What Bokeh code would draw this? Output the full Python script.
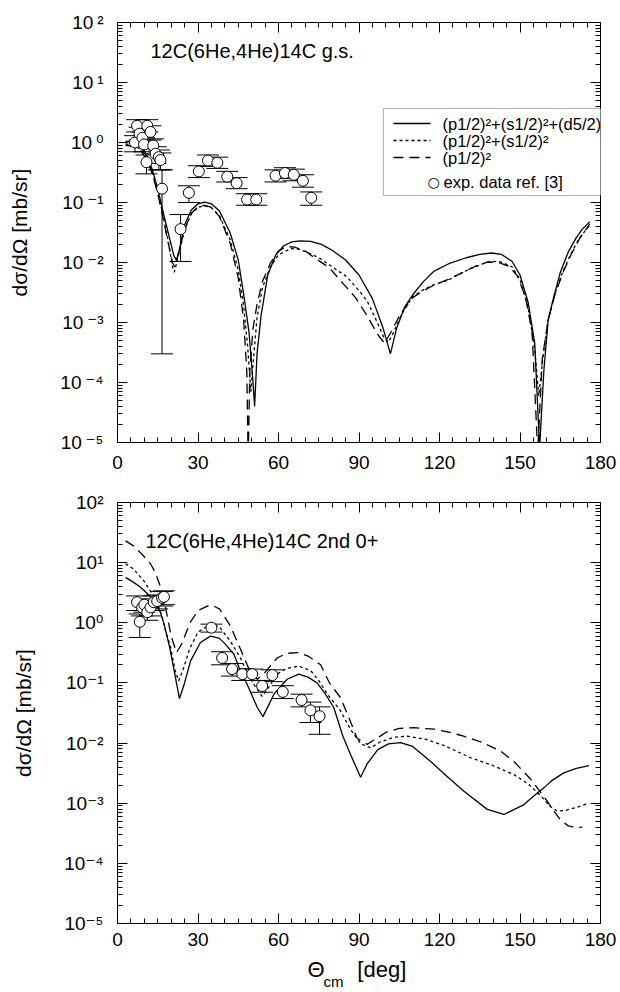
import math
from bokeh.plotting import figure
from bokeh.models import (Range1d, LogAxis, LinearAxis, FixedTicker, Label, Whisker, TeeHead,
                          ColumnDataSource, BoxAnnotation, Arrow, CustomJSTickFormatter)
from bokeh.layouts import column
from bokeh.embed import file_html
from bokeh.resources import INLINE

FONT = "Liberation Sans"

# ---------------- ticks ----------------
X_MAJOR = [0, 30, 60, 90, 120, 150, 180]
X_MINOR = list(range(0, 181, 5))
Y_EXP = list(range(-5, 3))
Y_MAJOR = [10.0 ** e for e in Y_EXP]
Y_MINOR = [k * 10.0 ** e for e in range(-5, 2) for k in range(2, 10)]

# ---------------- panel 1: 12C(6He,4He)14C g.s. ----------------
gs_full_ang = [3, 6, 9, 11, 13, 15, 17, 19, 21, 22, 23, 25, 27.5, 30, 32.5, 35, 38, 42, 45, 47,
               49, 50.5, 51.1, 52, 53.5, 56, 59, 62, 65, 68, 72, 76, 80, 85, 90, 95, 99, 101.7, 104, 107,
               110, 114, 118, 124, 130, 135, 139.5, 143, 147, 150, 153, 155.5, 157.3, 158.9, 160.5,
               162.6, 165, 168, 171, 173, 176]
gs_full = [1.05, 1.0, 0.85, 0.6, 0.35, 0.17, 0.07, 0.03, 0.013, 0.0108, 0.016, 0.042, 0.075, 0.095,
           0.101, 0.095, 0.072, 0.031, 0.011, 0.003, 7e-4, 1e-4, 4e-5, 3e-4, 0.0013, 0.0062, 0.0135,
           0.019, 0.022, 0.023, 0.0225, 0.020, 0.016, 0.011, 0.0062, 0.0025, 8e-4, 3e-4, 8e-4, 0.0018,
           0.0029, 0.0048, 0.0072, 0.0098, 0.012, 0.0137, 0.0144, 0.0137, 0.0105, 0.0062, 0.0022,
           4.5e-4, 8e-6, 1.6e-4, 0.0011, 0.0027, 0.0068, 0.015, 0.026, 0.035, 0.048]

gs_ps_ang = [3, 6, 9, 11, 13, 15, 17, 19, 20.5, 21.2, 22.5, 25, 27.5, 30, 32.5, 35, 38, 42, 45, 47,
             48.5, 49.7, 50.5, 52, 54, 57, 60, 64.5, 68, 72, 75.7, 80, 85.6, 90, 93, 96, 99.3, 101, 103,
             106, 110, 114, 118, 123, 127, 131.6, 136, 139.6, 143, 147, 150, 153, 155.5, 157, 158.5,
             160.5, 163, 166, 169, 172, 176]
gs_ps = [0.95, 0.9, 0.75, 0.55, 0.32, 0.15, 0.06, 0.022, 0.0085, 0.0069, 0.012, 0.035, 0.065, 0.083,
         0.088, 0.082, 0.06, 0.024, 0.0075, 0.0019, 4e-4, 7e-5, 2e-4, 0.0012, 0.0038, 0.0085, 0.0135,
         0.017, 0.0165, 0.014, 0.0115, 0.0085, 0.0057, 0.0034, 0.0023, 0.0012, 5.6e-4, 4.7e-4, 7e-4,
         0.0014, 0.0027, 0.0035, 0.0043, 0.005, 0.0063, 0.0079, 0.0095, 0.0105, 0.0102, 0.0085, 0.0052,
         0.0018, 3.5e-4, 6e-5, 2.5e-4, 0.0011, 0.003, 0.0072, 0.014, 0.025, 0.042]

gs_p_ang = [3, 6, 9, 11, 13, 15, 17, 19, 20.5, 21.3, 22.5, 25, 27.5, 30, 32.5, 35, 38, 42, 45, 47,
            48.2, 48.7, 49.3, 50.5, 52, 54, 57, 60, 63, 66, 70, 74, 78.8, 84, 88.7, 93, 96.8, 99.5, 102,
            105.5, 110, 114, 118, 123, 128, 133, 138, 142, 146, 149, 152, 154.5, 156.6, 158.3, 160.5,
            163, 166, 169, 172, 176]
gs_p = [0.9, 0.85, 0.7, 0.5, 0.3, 0.14, 0.055, 0.02, 0.01, 0.0085, 0.013, 0.036, 0.066, 0.085, 0.09,
        0.083, 0.058, 0.021, 0.0055, 0.0011, 1.5e-4, 5e-6, 1.5e-4, 8e-4, 0.002, 0.0048, 0.0098, 0.0155,
        0.0185, 0.018, 0.0155, 0.0115, 0.0083, 0.0045, 0.0026, 0.0013, 6.5e-4, 4.5e-4, 7e-4, 0.0014,
        0.0026, 0.0034, 0.0042, 0.0052, 0.0066, 0.0085, 0.0102, 0.0100, 0.0086, 0.006, 0.0027, 7e-4,
        7e-6, 2.5e-4, 0.0011, 0.0029, 0.0068, 0.0135, 0.024, 0.044]

gs_exp_ang = [6.5, 7.3, 8.2, 9.3, 9.9, 10.8, 11.1, 12.3, 13.3, 14.2, 15.4, 16.0, 16.6, 23.5, 26.6,
              30.3, 33.7, 37.2, 40.9, 44.4, 48.3, 51.7, 58.9, 62.4, 65.7, 69.1, 72.2]
gs_exp = [1.0, 1.9, 1.4, 1.2, 0.93, 0.47, 1.9, 1.5, 0.89, 0.65, 0.57, 0.51, 0.17, 0.036, 0.145,
          0.33, 0.5, 0.46, 0.27, 0.21, 0.112, 0.112, 0.28, 0.31, 0.29, 0.23, 0.12]
gs_exp_lo = [0.7, 1.5, 1.1, 0.9, 0.7, 0.3, 1.5, 1.1, 0.65, 0.45, 0.35, 0.35, 3e-4, 0.0104, 0.10,
             0.26, 0.4, 0.37, 0.22, 0.17, 0.09, 0.09, 0.22, 0.25, 0.23, 0.18, 0.09]
gs_exp_hi = [1.3, 2.4, 1.8, 1.5, 1.2, 0.62, 2.4, 1.9, 1.15, 0.85, 0.75, 0.67, 0.35, 0.063, 0.19,
             0.41, 0.62, 0.57, 0.33, 0.26, 0.14, 0.14, 0.35, 0.38, 0.36, 0.29, 0.15]

# ---------------- panel 2: 12C(6He,4He)14C 2nd 0+ ----------------
ex_full_ang = [3, 6, 8.6, 11, 13, 14.5, 16, 17.5, 19.5, 21.5, 23.1, 25, 27.2, 30.9, 34.7, 38, 40,
               43.4, 46, 48.3, 52.1, 54.2, 56, 58.3, 63.2, 67.6, 71, 74.4, 77.5, 80.6, 84, 86.8, 90.6,
               93, 97, 101, 105.5, 110, 116.6, 122, 129, 137.8, 144, 151.5, 155, 158.9, 162, 166.3,
               171, 175.7]
ex_full = [5.7, 4.7, 3.9, 3.1, 2.5, 2.0, 1.5, 0.9, 0.38, 0.13, 0.055, 0.1, 0.23, 0.47, 0.6, 0.55,
           0.45, 0.3, 0.15, 0.095, 0.039, 0.0275, 0.04, 0.065, 0.115, 0.14, 0.125, 0.1, 0.065, 0.039,
           0.013, 0.0065, 0.0027, 0.0045, 0.0078, 0.0097, 0.0102, 0.0088, 0.005, 0.003, 0.0016,
           7.9e-4, 6.5e-4, 9.5e-4, 0.0013, 0.0018, 0.0024, 0.0032, 0.0038, 0.0042]

ex_ps_ang = [3, 6, 9.8, 12, 14.5, 16.5, 17.9, 19.8, 21.5, 22.8, 24.5, 27, 30, 34.7, 38, 42, 45.8,
             48, 50.8, 53.9, 56, 59.5, 63, 67.6, 72, 75, 78.2, 83, 86.8, 90.6, 94.3, 98, 103, 108,
             115, 122, 131.6, 140, 147.7, 153, 158, 161, 163.9, 167, 171, 175.7]
ex_ps = [9.6, 7.8, 5.0, 3.5, 2.4, 1.3, 0.74, 0.39, 0.16, 0.108, 0.17, 0.38, 0.7, 0.95, 0.85, 0.5,
         0.26, 0.16, 0.095, 0.06, 0.08, 0.14, 0.175, 0.19, 0.16, 0.11, 0.065, 0.035, 0.017, 0.0098,
         0.0083, 0.0105, 0.0125, 0.013, 0.0115, 0.009, 0.0057, 0.0042, 0.003, 0.0021, 0.0013, 9e-4,
         7.4e-4, 7.6e-4, 8.5e-4, 0.001]

ex_p_ang = [3, 6, 9, 12.3, 14, 16, 18, 20, 22, 24, 27, 30, 34.7, 38, 42, 46, 49, 52.1, 55, 59.5,
            63, 67.2, 71, 75.7, 79, 83.1, 86, 89.3, 93, 96, 100, 105, 110.4, 118, 124, 129, 136,
            142.7, 148, 154, 160, 165, 168, 170.7, 173.2]
ex_p = [23, 19, 14, 9.6, 7, 4, 1.7, 0.6, 0.32, 0.45, 1.0, 1.6, 2.0, 1.7, 0.9, 0.35, 0.17, 0.115,
        0.15, 0.26, 0.31, 0.32, 0.28, 0.2, 0.1, 0.057, 0.028, 0.012, 0.0095, 0.0115, 0.015, 0.0175,
        0.018, 0.017, 0.015, 0.013, 0.0102, 0.0074, 0.0048, 0.0025, 0.0011, 5.3e-4, 4.2e-4, 3.9e-4,
        4e-4]

ex_exp_ang = [7.3, 8.3, 9.2, 10.0, 11.1, 12.3, 13.5, 14.8, 16.6, 17.3, 35.0, 39.0, 42.7, 46.5, 50.2,
              53.9, 57.7, 61.6, 68.6, 71.9, 75.3]
ex_exp = [2.2, 1.04, 1.8, 2.0, 1.5, 1.8, 2.2, 2.3, 2.6, 2.7, 0.83, 0.26, 0.17, 0.14, 0.14, 0.089,
          0.135, 0.071, 0.052, 0.035, 0.028]
ex_exp_lo = [1.6, 0.57, 1.3, 1.5, 1.1, 1.3, 1.6, 1.7, 1.9, 2.0, 0.7, 0.2, 0.13, 0.11, 0.11, 0.07,
             0.105, 0.055, 0.04, 0.022, 0.014]
ex_exp_hi = [2.8, 1.4, 2.3, 2.5, 1.9, 2.3, 2.8, 2.9, 3.3, 3.4, 0.95, 0.33, 0.21, 0.17, 0.17, 0.11,
             0.165, 0.09, 0.065, 0.048, 0.04]

LEGEND = ["(p1/2)\u00b2+(s1/2)\u00b2+(d5/2)", "(p1/2)\u00b2+(s1/2)\u00b2", "(p1/2)\u00b2",
          "exp. data ref. [3]"]
Y_TITLE = "d\u03c3/d\u03a9 [mb/sr]"
X_TITLE_PARTS = {74: "\u0398", 98.5: "[deg]"}   # tick position -> text
X_TITLE_SUB = {80.5: "cm"}

DASH_DOT = "3 3"
DASH_LONG = "10 6"
FRAME_W = 483.0
DEC_PX = 60.0


def px_to_deg(dx):
    return dx * 180.0 / FRAME_W


def py_to_val(dy):
    # dy: pixels below the frame top (10^2)
    return 10.0 ** (2.0 - dy / DEC_PX)


SUP_JS = """
const sup = {"-": "\\u207b", "0": "\\u2070", "1": "\\u00b9", "2": "\\u00b2", "3": "\\u00b3",
             "4": "\\u2074", "5": "\\u2075", "6": "\\u2076", "7": "\\u2077", "8": "\\u2078",
             "9": "\\u2079"};
const e = Math.round(Math.log10(tick));
return "10" + GAP + String(e).split("").map(c => sup[c]).join("");
"""


def style_axis(ax, show_labels, standoff=9):
    ax.axis_line_color = "black"
    ax.axis_line_width = 1
    ax.major_tick_in = 10
    ax.major_tick_out = 0
    ax.minor_tick_in = 5
    ax.minor_tick_out = 0
    ax.major_tick_line_color = "black"
    ax.minor_tick_line_color = "black"
    if show_labels:
        ax.major_label_text_font = FONT
        ax.major_label_text_font_size = "19px"
        ax.major_label_text_color = "black"
        ax.major_label_standoff = standoff
    else:
        ax.formatter = CustomJSTickFormatter(code="return ''")
        ax.major_label_text_font_size = "1px"
        ax.major_label_standoff = 0


def text_axis(mapping, font_size, standoff):
    ticks = sorted(mapping.keys())
    ax = LinearAxis(ticker=FixedTicker(ticks=ticks, minor_ticks=[]),
                    major_label_overrides={k: v for k, v in mapping.items()})
    ax.axis_line_color = None
    ax.major_tick_line_color = None
    ax.minor_tick_line_color = None
    ax.major_tick_in = 0
    ax.major_tick_out = 0
    ax.major_label_text_font = FONT
    ax.major_label_text_font_size = font_size
    ax.major_label_text_color = "black"
    ax.major_label_standoff = standoff
    return ax


def make_panel(height, top, bottom, gap, xstandoff, title, title_dx, title_dy,
               full_ang, full, ps_ang, ps, p_ang, pv, e_ang, e_val, e_lo, e_hi):
    p = figure(width=620, height=height, x_range=Range1d(0, 180), y_range=Range1d(1e-5, 1e2),
               y_axis_type="log", output_backend="svg", toolbar_location=None,
               min_border_left=117, min_border_right=20, min_border_top=top,
               min_border_bottom=bottom)
    p.grid.visible = False
    p.outline_line_color = None
    p.background_fill_color = "white"
    p.border_fill_color = "white"

    p.xaxis.ticker = FixedTicker(ticks=X_MAJOR, minor_ticks=X_MINOR)
    p.yaxis.ticker = FixedTicker(ticks=Y_MAJOR, minor_ticks=Y_MINOR)
    for ax in p.xaxis:
        style_axis(ax, True, xstandoff)
    for ax in p.yaxis:
        style_axis(ax, True, 14)
        ax.major_label_text_font = FONT + ", DejaVu Sans"
        ax.formatter = CustomJSTickFormatter(code=SUP_JS, args=dict(GAP=gap))
        ax.axis_label = Y_TITLE
        ax.axis_label_text_font = FONT
        ax.axis_label_text_font_size = "21px"
        ax.axis_label_text_font_style = "normal"
        ax.axis_label_text_color = "black"
        ax.axis_label_standoff = 26
    top_ax = LinearAxis(ticker=FixedTicker(ticks=X_MAJOR, minor_ticks=X_MINOR))
    style_axis(top_ax, False)
    p.add_layout(top_ax, "above")
    right_ax = LogAxis(ticker=FixedTicker(ticks=Y_MAJOR, minor_ticks=Y_MINOR))
    style_axis(right_ax, False)
    p.add_layout(right_ax, "right")

    # panel title
    p.add_layout(Label(x=0, y=1e2, x_offset=title_dx, y_offset=-title_dy, text=title,
                       text_align="left", text_baseline="middle", text_font=FONT,
                       text_font_size="20px", text_color="black"))

    # curves
    p.line(full_ang, full, line_color="black", line_width=1.3)
    p.line(ps_ang, ps, line_color="black", line_width=1.3, line_dash=DASH_DOT)
    p.line(p_ang, pv, line_color="black", line_width=1.3, line_dash=DASH_LONG)

    # experimental data
    src = ColumnDataSource(dict(x=e_ang, y=e_val, lo=e_lo, hi=e_hi))
    p.add_layout(Whisker(base="x", upper="hi", lower="lo", source=src, dimension="height",
                         line_color="black", line_width=1,
                         upper_head=TeeHead(size=22, line_color="black", line_width=1),
                         lower_head=TeeHead(size=22, line_color="black", line_width=1)))
    p.scatter("x", "y", source=src, marker="circle", size=11, fill_color="white",
              line_color="black", line_width=1)
    return p


p1 = make_panel(490, 22, 48, "\u2009", 13, "12C(6He,4He)14C g.s.", 33, 28,
                gs_full_ang, gs_full, gs_ps_ang, gs_ps, gs_p_ang, gs_p,
                gs_exp_ang, gs_exp, gs_exp_lo, gs_exp_hi)
p2 = make_panel(502, 12, 69, "", 9, "12C(6He,4He)14C 2nd 0+", 28, 38,
                ex_full_ang, ex_full, ex_ps_ang, ex_ps, ex_p_ang, ex_p,
                ex_exp_ang, ex_exp, ex_exp_lo, ex_exp_hi)

# ---------------- x axis title (bottom panel) as extra label-only axes ----------------
p2.add_layout(text_axis(X_TITLE_PARTS, "22px", 8), "below")
p2.add_layout(text_axis(X_TITLE_SUB, "15px", -12), "below")

# ---------------- legend (top panel) ----------------
box_left = 266      # px right of frame left
box_top = 86        # px below frame top
box_bottom = 173
row_dy = [101, 118, 135, 159]
sample_x0, sample_x1 = 276, 313
text_x = 325

p1.add_layout(BoxAnnotation(left=px_to_deg(box_left), right=220, top=py_to_val(box_top),
                            bottom=py_to_val(box_bottom), fill_color="white", fill_alpha=1.0,
                            line_color="black", line_width=1, level="annotation"))
styles = [None, DASH_DOT, DASH_LONG]
for i in range(3):
    kw = dict(line_color="black", line_width=1.3)
    if styles[i]:
        kw["line_dash"] = styles[i]
    p1.add_layout(Arrow(end=None, x_start=px_to_deg(sample_x0), x_end=px_to_deg(sample_x1),
                        y_start=py_to_val(row_dy[i]), y_end=py_to_val(row_dy[i]), **kw))
    p1.add_layout(Label(x=0, y=1e2, x_offset=text_x, y_offset=-row_dy[i], text=LEGEND[i],
                        text_align="left", text_baseline="middle", text_font=FONT,
                        text_font_size="16.5px", text_color="black"))
p1.add_layout(Label(x=0, y=1e2, x_offset=316, y_offset=-row_dy[3], text="\u25cb",
                    text_align="center", text_baseline="middle", text_font="DejaVu Sans",
                    text_font_size="14px", text_color="black"))
p1.add_layout(Label(x=0, y=1e2, x_offset=326, y_offset=-row_dy[3], text=LEGEND[3],
                    text_align="left", text_baseline="middle", text_font=FONT,
                    text_font_size="16.5px", text_color="black"))

layout = column(p1, p2)
open("out.html", "w").write(file_html(layout, INLINE))
